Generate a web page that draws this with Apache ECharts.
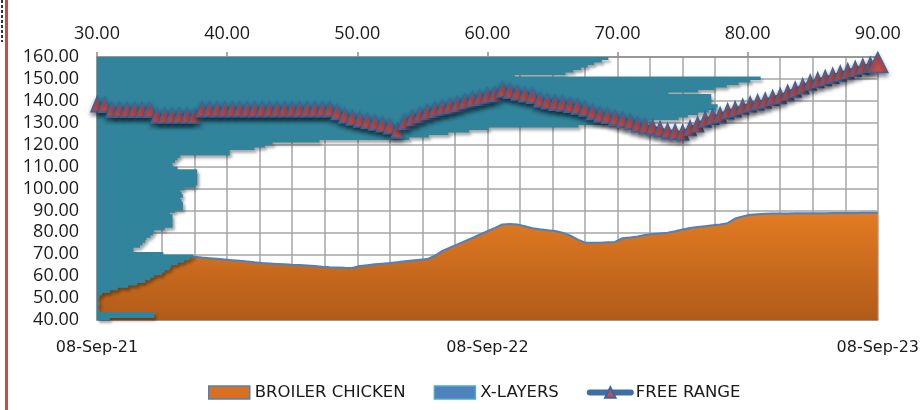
<!DOCTYPE html>
<html>
<head>
<meta charset="utf-8">
<script src="https://cdn.jsdelivr.net/npm/echarts@6/dist/echarts.min.js"></script>
<style>
  html, body { margin: 0; padding: 0; background: #fff; }
  #chart { width: 922px; height: 410px; }
</style>
</head>
<body>
<div id="chart"></div>
<script>
const MON = ['Jan', 'Feb', 'Mar', 'Apr', 'May', 'Jun', 'Jul', 'Aug', 'Sep', 'Oct', 'Nov', 'Dec'];
function fmt(d) {
  return String(d.getUTCDate()).padStart(2, '0') + '-' + MON[d.getUTCMonth()] + '-' + String(d.getUTCFullYear()).slice(2);
}

// weekly price dates, 08-Sep-21 onwards (105 weeks)
const weeks = [];
for (let i = 0; i < 105; i++) weeks.push(fmt(new Date(Date.UTC(2021, 8, 8 + 7 * i))));
// monthly gridlines / bottom tick labels
const months = [];
for (let i = 0; i <= 24; i++) months.push(fmt(new Date(Date.UTC(2021, 8 + i, 8))));

const broilerChicken = [
  68.6, 68.7, 68.8, 68.8, 68.9, 68.9, 69.0, 69.0, 69.0, 69.0, 69.0, 68.9, 68.9, 68.9,
  68.5, 68.2, 67.9, 67.6, 67.3, 67.0, 66.7, 66.3, 66.0, 65.8, 65.6, 65.4, 65.2, 65.1,
  64.9, 64.6, 64.3, 64.1, 64.0, 63.8, 63.7,
  64.6, 65.0, 65.4, 65.7, 66.0, 66.4, 66.8, 67.2, 67.5, 67.8,
  69.3, 71.5, 73.0, 74.5, 76.0, 77.5, 79.0, 80.5, 82.0, 83.6,
  83.8, 83.6, 82.8, 81.9, 81.4, 81.0, 80.6, 79.8, 78.6, 76.8, 75.3, 75.2, 75.3, 75.5, 75.6,
  77.3, 77.6, 78.1, 78.8, 79.2, 79.5, 79.8, 80.5, 81.3, 82.0, 82.4, 82.8, 83.2, 83.6, 84.2,
  86.3, 87.2, 88.0, 88.3, 88.5,
  88.6, 88.6, 88.6, 88.7, 88.7, 88.7, 88.7, 88.7, 88.8, 88.8, 88.8, 88.8, 88.9, 88.9, 88.9
];

// oldest week first (drawn at the bottom of the hidden vertical axis)
const xLayers = [
  31.0, 34.4, 34.4, 30.2, 30.1, 30.1, 30.2, 30.1, 30.1, 30.2, 30.4, 31.0, 31.6, 32.4,
  33.1, 33.7, 34.1, 34.4, 35.0, 35.2, 35.6, 35.7, 36.2, 36.7, 37.1, 37.4, 35.1, 32.8,
  32.8, 33.3, 33.5, 33.7, 33.8, 34.1, 34.3, 34.4, 35.2, 35.8, 35.8, 35.8, 35.8, 35.8,
  35.6, 36.0, 36.6, 36.6, 36.6, 36.5, 36.4, 36.6, 36.5, 36.4, 36.7, 37.5, 37.7, 37.7,
  37.7, 37.7, 37.7, 37.7, 36.2, 35.8, 35.8, 36.0, 36.2, 36.4, 40.2, 40.2, 42.1, 42.9,
  43.5, 47.1, 54.0, 55.5, 57.0, 58.6, 60.1, 67.0, 70.1, 72.4, 74.7, 75.4, 76.2, 77.0,
  77.6, 77.7, 77.2, 77.2, 77.2, 77.2, 73.9, 76.2, 77.4, 78.4, 79.3, 80.2, 81.0, 62.1,
  66.0, 66.6, 67.2, 67.7, 68.2, 68.8, 69.3
];

const freeRange = [
  138.5, 138.3, 136.0, 136.0, 136.0, 136.0, 136.0, 136.0,
  133.3, 133.3, 133.3, 133.3, 133.3, 133.3,
  136.2, 136.2, 136.2, 136.2, 136.2, 136.2, 136.2, 136.2, 136.2,
  136.2, 136.2, 136.2, 136.2, 136.2, 136.2, 136.2, 136.2, 136.2,
  135.0, 133.4, 132.4, 131.5, 130.8, 130.1, 129.3, 128.5, 126.5,
  130.5, 132.2, 133.6, 135.0, 136.0, 137.0, 137.7, 138.6, 139.8, 140.8, 141.5, 142.5, 143.2, 145.2,
  144.6, 143.8, 143.0, 142.4, 140.6, 139.8, 139.2, 138.8, 138.2, 137.5, 136.5, 135.0, 133.8,
  133.2, 132.3, 131.4, 130.5, 129.3, 128.6, 128.0, 127.2, 126.3, 125.9, 125.6,
  127.6, 129.3, 131.5, 132.8, 133.6, 135.3, 136.2, 137.4, 138.5, 139.4, 140.2, 141.4, 142.3,
  143.8, 145.2, 146.7, 148.4, 149.5, 150.5, 151.5, 152.5, 153.6, 154.7, 155.7, 156.5, 157.5
];

const chart = echarts.init(document.getElementById('chart'));

const gridColor = '#a6a6a6';
const axisColor = '#8c8c8c';
const numFont = { fontFamily: 'Open Sans', fontSize: 18, color: '#1a1a1a' };

chart.setOption({
  animation: false,
  backgroundColor: '#fff',
  grid: { left: 97, right: 42, top: 57, bottom: 90 },
  legend: {
    left: 203,
    top: 379,
    itemWidth: 41,
    itemHeight: 13,
    itemGap: 28,
    textStyle: { fontFamily: 'DejaVu Sans', fontSize: 16.5, color: '#1a1a1a' },
    data: [
      { name: 'BROILER CHICKEN', icon: 'rect', itemStyle: { color: '#d9701f', borderColor: '#4f81bd', borderWidth: 1.5 } },
      { name: 'X-LAYERS', icon: 'rect', itemStyle: { color: '#4f81bd', borderColor: '#4bacc6', borderWidth: 1.5 } },
      { name: 'FREE RANGE', lineStyle: { width: 6, color: '#3f6cab', cap: 'round' } }
    ]
  },
  xAxis: [
    {
      type: 'category',
      data: months,
      boundaryGap: false,
      position: 'bottom',
      axisLine: { lineStyle: { color: axisColor, width: 1.5 } },
      axisTick: { show: false },
      axisLabel: { interval: 11, margin: 20, fontFamily: 'DejaVu Sans', fontSize: 16, color: '#1a1a1a' },
      splitLine: { show: true, interval: 0, lineStyle: { color: gridColor, width: 1.5 } }
    },
    { type: 'category', data: weeks, boundaryGap: false, show: false },
    {
      type: 'value',
      position: 'top',
      min: 30,
      max: 90,
      interval: 10,
      axisLine: { show: true, lineStyle: { color: axisColor, width: 1.5 } },
      axisTick: { show: true, length: 5, lineStyle: { color: axisColor, width: 1.5 } },
      axisLabel: Object.assign({ margin: 14, formatter: v => v.toFixed(2) }, numFont),
      splitLine: { show: false }
    }
  ],
  yAxis: [
    {
      type: 'value',
      min: 40,
      max: 160,
      interval: 10,
      axisLine: { show: true, lineStyle: { color: axisColor, width: 1.5 } },
      axisTick: { show: false },
      axisLabel: Object.assign({ margin: 18, formatter: v => v.toFixed(2) }, numFont),
      splitLine: { lineStyle: { color: gridColor, width: 1.5 } }
    },
    // hidden week axis for the horizontal X-LAYERS bars (newest on top, drawn first)
    { type: 'category', data: weeks.slice().reverse(), inverse: true, show: false }
  ],
  series: [
    {
      name: 'BROILER CHICKEN',
      type: 'line',
      xAxisIndex: 1,
      yAxisIndex: 0,
      data: broilerChicken,
      symbol: 'none',
      z: 2,
      lineStyle: { color: '#4f81bd', width: 2 },
      itemStyle: { color: '#d9701f' },
      areaStyle: {
        origin: 'start',
        opacity: 1,
        color: new echarts.graphic.LinearGradient(0, 0, 0, 1, [
          { offset: 0, color: '#e27b22' },
          { offset: 1, color: '#b15b1a' }
        ])
      }
    },
    {
      name: 'X-LAYERS',
      type: 'bar',
      xAxisIndex: 2,
      yAxisIndex: 1,
      data: xLayers.slice().reverse(),
      barWidth: 3.4,
      z: 3,
      itemStyle: {
        color: '#31849b',
        shadowBlur: 3,
        shadowOffsetX: 2,
        shadowOffsetY: 3,
        shadowColor: 'rgba(0,0,0,0.3)'
      }
    },
    {
      name: 'FREE RANGE',
      type: 'line',
      xAxisIndex: 1,
      yAxisIndex: 0,
      data: freeRange.map((v, i) => i === freeRange.length - 1 ? { value: v, symbolSize: [20, 20] } : v),
      symbol: 'triangle',
      symbolSize: [12, 15],
      showAllSymbol: true,
      z: 4,
      lineStyle: { color: '#3b64a0', width: 3 },
      itemStyle: {
        color: '#c0504d',
        borderColor: '#3b64a0',
        borderWidth: 1.5,
        shadowBlur: 4,
        shadowOffsetY: 3,
        shadowColor: 'rgba(0,0,0,0.45)'
      }
    }
  ],
  graphic: [
    { type: 'rect', shape: { x: 5, y: 0, width: 3, height: 410 }, style: { fill: '#c0504d' } },
    { type: 'line', shape: { x1: 2, y1: 0, x2: 2, y2: 42 }, style: { stroke: '#333', lineWidth: 2, lineDash: [3, 2] } }
  ]
});
</script>
</body>
</html>
